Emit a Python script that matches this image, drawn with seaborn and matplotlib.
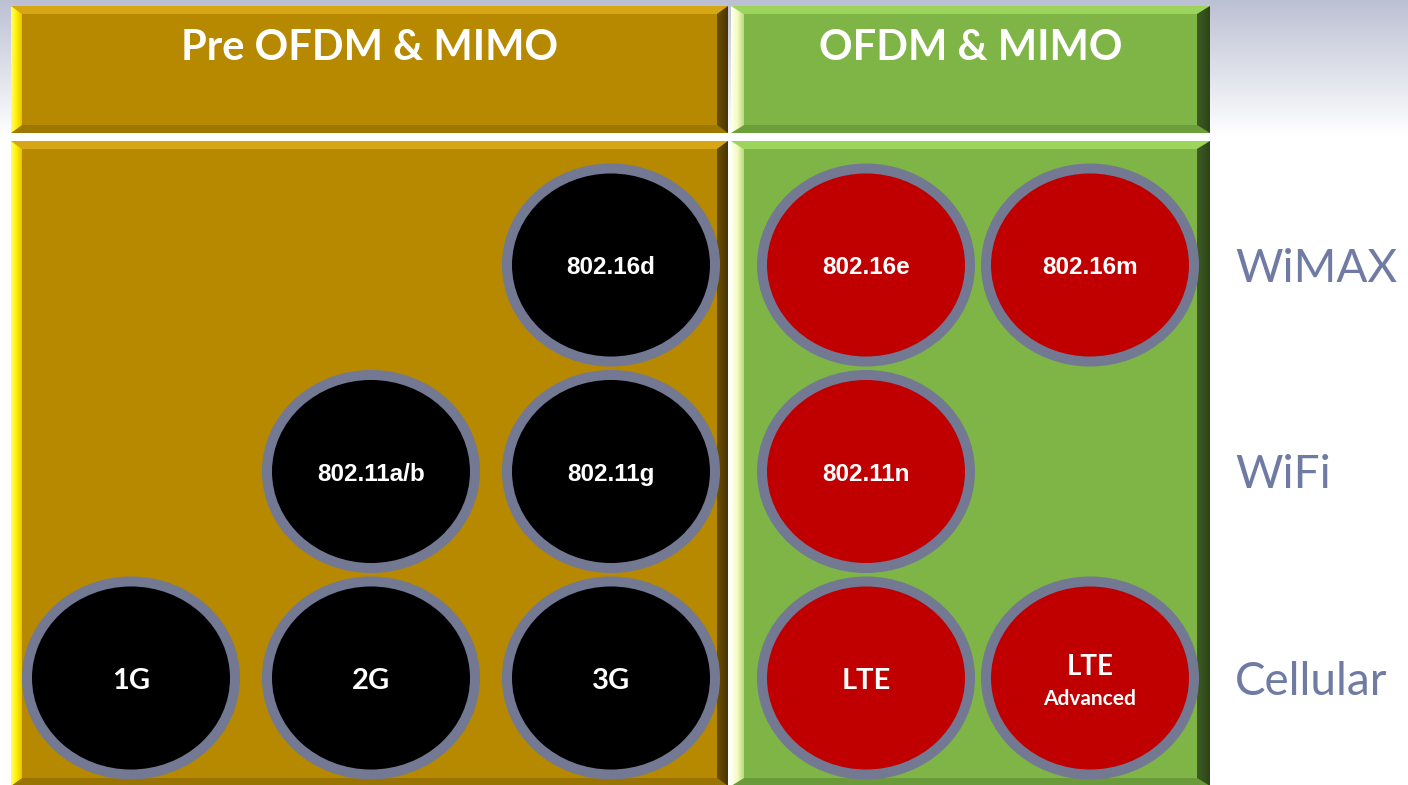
import numpy as np
import pandas as pd
import seaborn as sns
import matplotlib.pyplot as plt
from matplotlib import font_manager
from matplotlib.path import Path
from matplotlib.transforms import Affine2D
from matplotlib.patches import Polygon, Rectangle
from matplotlib.colors import LinearSegmentedColormap

# ---- data -------------------------------------------------------------
eras = ["Pre OFDM & MIMO", "OFDM & MIMO"]
families = ["WiMAX", "WiFi", "Cellular"]

pre_techs = ["802.16d", "802.11a/b", "802.11g", "1G", "2G", "3G"]
pre_cols = [2, 1, 2, 0, 1, 2]
pre_rows = [0, 1, 1, 2, 2, 2]

ofdm_techs = ["802.16e", "802.16m", "802.11n", "LTE", "LTE\nAdvanced"]
ofdm_cols = [0, 1, 0, 0, 1]
ofdm_rows = [0, 0, 1, 2, 2]

pre_df = pd.DataFrame({"tech": pre_techs, "col": pre_cols, "row": pre_rows, "era": eras[0]})
ofdm_df = pd.DataFrame({"tech": ofdm_techs, "col": ofdm_cols, "row": ofdm_rows, "era": eras[1]})

# ---- style ------------------------------------------------------------
sns.set_style("white")
names = {f.name for f in font_manager.fontManager.ttflist}
narrow = "Liberation Sans Narrow" if "Liberation Sans Narrow" in names else "Liberation Sans"
narrow_size = 19 if narrow == "Liberation Sans Narrow" else 17.5
plt.rcParams["font.family"] = ["Lato", "DejaVu Sans"]

GOLD = "#B68900"
GREEN = "#7FB446"
RING = "#737893"
era_palette = {eras[0]: "#000000", eras[1]: "#C00000"}

W, H = 1408, 785
fig = plt.figure(figsize=(W / 100, H / 100), dpi=100)

# background axes in pixel units
bg = fig.add_axes([0, 0, 1, 1])
bg.set_xlim(0, W)
bg.set_ylim(H, 0)
bg.axis("off")

grad = np.ones((H, 2, 3))
top_col = np.array([0xBC, 0xC0, 0xD3]) / 255
t = np.clip(np.arange(H) / 135.0, 0, 1)[:, None]
grad[:, :, :] = (top_col * (1 - t) + 1.0 * t)[:, None, :]
bg.imshow(grad, extent=(0, W, H, 0), aspect="auto", zorder=0)


def grad_strip(ax, poly, colors, horizontal=True):
    cmap = LinearSegmentedColormap.from_list("b", colors)
    xs, ys = zip(*poly)
    img = np.linspace(0, 1, 64)[None, :] if horizontal else np.linspace(0, 1, 64)[:, None]
    im = ax.imshow(img, cmap=cmap, extent=(min(xs), max(xs), max(ys), min(ys)),
                   aspect="auto", zorder=2)
    p = Polygon(poly, closed=True, transform=ax.transData, facecolor="none", lw=0)
    ax.add_patch(p)
    im.set_clip_path(p)


def bevel_box(ax, x0, y0, x1, y1, face, top, left, right, bottom, bt=8, bs=11):
    ax.add_patch(Rectangle((x0, y0), x1 - x0, y1 - y0, color=face, lw=0, zorder=1))
    ax.add_patch(Polygon([(x0, y0), (x1, y0), (x1 - bs, y0 + bt), (x0 + bs, y0 + bt)],
                         color=top, lw=0, zorder=2))
    ax.add_patch(Polygon([(x0, y1), (x1, y1), (x1 - bs, y1 - bt), (x0 + bs, y1 - bt)],
                         color=bottom, lw=0, zorder=2))
    grad_strip(ax, [(x0, y0), (x0 + bs, y0 + bt), (x0 + bs, y1 - bt), (x0, y1)], left)
    grad_strip(ax, [(x1, y0), (x1 - bs, y0 + bt), (x1 - bs, y1 - bt), (x1, y1)], right)


gold_left = ["#FFFF70", "#FFF000", "#E8C400"]
gold_right = ["#6A5000", "#4A3500"]
green_left = ["#FFFFF0", "#F4FCC0", "#B8DC80"]
green_right = ["#3E5C22", "#2C4418"]

# header boxes
bevel_box(bg, 11, 6, 728, 133, GOLD, "#D6A614", gold_left, gold_right, "#9E7700")
bevel_box(bg, 731, 6, 1210, 133, GREEN, "#9CD45C", green_left, green_right, "#6C9E3C", bs=13)
# panel boxes
bevel_box(bg, 11, 141, 728, 786, GOLD, "#D6A614", gold_left, gold_right, "#9A7400")
bevel_box(bg, 731, 141, 1210, 786, GREEN, "#9CD45C", green_left, green_right, "#6A9A3A", bs=13)

for name, xc in zip(eras, [369.5, 970.5]):
    bg.text(xc, 60, name, ha="center", va="baseline", color="white",
            fontsize=30, fontweight="bold", zorder=5)

# ---- circle panels ----------------------------------------------------
ellipse = Affine2D().scale(1, 0.928).transform_path(Path.unit_circle())


def panel(rect, xlim, df):
    ax = fig.add_axes(rect)
    ax.patch.set_alpha(0)
    sns.scatterplot(data=df, x="col", y="row", hue="era", palette=era_palette,
                    marker=ellipse, s=22430, linewidth=7.2, edgecolor=RING,
                    legend=False, ax=ax, clip_on=False, zorder=3)
    for _, r in df.iterrows():
        if r.tech.startswith("802"):
            ax.annotate(r.tech, (r.col, r.row), xytext=(0, -6.6), textcoords="offset points",
                        ha="center", va="baseline", color="white", fontsize=narrow_size,
                        fontweight="bold", family=[narrow, "DejaVu Sans"], zorder=4)
        elif "\n" in r.tech:
            first, second = r.tech.split("\n")
            ax.annotate(first, (r.col, r.row), xytext=(0, 2.2), textcoords="offset points",
                        ha="center", va="baseline", color="white", fontsize=20,
                        fontweight="bold", zorder=4)
            ax.annotate(second, (r.col, r.row), xytext=(0, -19.2), textcoords="offset points",
                        ha="center", va="baseline", color="white", fontsize=15,
                        fontweight="bold", zorder=4)
        else:
            ax.annotate(r.tech, (r.col, r.row), xytext=(0, -7.6), textcoords="offset points",
                        ha="center", va="baseline", color="white", fontsize=21,
                        fontweight="bold", zorder=4)
    ax.set_xlim(*xlim)
    ax.set_ylim((785 - 265) / 206.5, (141 - 265) / 206.5)
    ax.set_xlabel("")
    ax.set_ylabel("")
    ax.set_xticks([])
    for s in ax.spines.values():
        s.set_visible(False)
    return ax


ph = (785 - 141) / H
ax_l = panel([11 / W, 0, 717 / W, ph], ((11 - 131) / 240, (728 - 131) / 240), pre_df)
ax_l.set_yticks([])

ax_r = panel([731 / W, 0, 479 / W, ph], ((731 - 866) / 224, (1210 - 866) / 224), ofdm_df)
ax_r.yaxis.tick_right()
ax_r.set_yticks(range(len(families)))
ax_r.set_yticklabels(families)
ax_r.tick_params(axis="y", length=0, pad=18, labelsize=33, labelcolor="#6F7BA3")

fig.savefig("out.png", dpi=100)
